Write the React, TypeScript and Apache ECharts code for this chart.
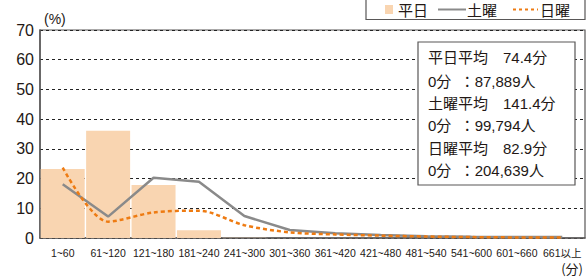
import React, { useEffect, useRef } from "react";
import * as echarts from "echarts";

const categories = ["1~60", "61~120", "121~180", "181~240", "241~300", "301~360", "361~420", "421~480", "481~540", "541~600", "601~660", "661以上"];
const weekday = [23.2, 36.1, 17.8, 2.6, 0.1, 0, 0, 0, 0, 0, 0, 0];
const saturday = [18.1, 7.2, 20.3, 18.9, 7.4, 2.7, 1.6, 1.0, 0.6, 0.4, 0.3, 0.3];
const sunday = [23.7, 5.5, 8.6, 9.2, 4.3, 1.9, 1.2, 0.8, 0.5, 0.3, 0.2, 0.2];
const yTicks = { min: 0, max: 70, interval: 10 };
const seriesNames = ["平日", "土曜", "日曜"];
const noteLines = [
  "平日平均　74.4分",
  "0分  ：87,889人",
  "土曜平均　141.4分",
  "0分  ：99,794人",
  "日曜平均　82.9分",
  "0分  ：204,639人",
];

const FONT = "'Liberation Sans', Arial, 'Noto Sans CJK JP', sans-serif";
const CJK = "'Noto Sans CJK JP', sans-serif";
const TXT = "#231815";
const AXIS = "#595757";
const BAR = "#f9d5b1";
const GRAY = "#8a8a8a";
const ORANGE = "#ee7b12";

export default function App() {
  const ref = useRef<HTMLDivElement>(null);
  useEffect(() => {
    document.body.style.margin = "0";
    const chart = echarts.init(ref.current!, null, { renderer: "svg" });
    const noteY = [57, 81, 103.5, 125.5, 148, 170];
    chart.setOption({
      animation: false,
      grid: { left: 40, right: 2, top: 30, bottom: 39, show: true, borderColor: AXIS, borderWidth: 1.2, backgroundColor: "transparent" },
      xAxis: {
        type: "category",
        data: categories,
        axisLine: { lineStyle: { color: AXIS, width: 1.5 } },
        axisTick: { alignWithLabel: true, length: 6, lineStyle: { color: AXIS, width: 1 } },
        axisLabel: { interval: 0, fontSize: 10.5, color: TXT, fontFamily: FONT, margin: 10 },
      },
      yAxis: {
        type: "value",
        min: yTicks.min,
        max: yTicks.max,
        interval: yTicks.interval,
        axisLine: { show: true, lineStyle: { color: AXIS, width: 1.5 } },
        axisTick: { show: false },
        axisLabel: { fontSize: 16, color: TXT, fontFamily: FONT, margin: 6 },
        splitLine: { lineStyle: { color: "#222", width: 1, type: [3, 3] } },
      },
      series: [
        { name: seriesNames[0], type: "bar", data: weekday, barWidth: 44, itemStyle: { color: BAR }, z: 2 },
        { name: seriesNames[1], type: "line", data: saturday, symbol: "none", lineStyle: { color: GRAY, width: 2.5 }, z: 3 },
        { name: seriesNames[2], type: "line", data: sunday, symbol: "none", smooth: 0.3, lineStyle: { color: ORANGE, width: 2.5, type: [4, 3] }, z: 4 },
      ],
      graphic: [
        { type: "text", x: 44, y: 12, z: 100, style: { text: "(%)", fontSize: 14, fill: TXT, fontFamily: FONT } },
        { type: "text", x: 583, y: 262, z: 100, style: { text: "(分)", fontSize: 13, fill: TXT, fontFamily: CJK, align: "right" } },
        { type: "rect", z: 100, shape: { x: 366, y: -5, width: 219, height: 24.5 }, style: { fill: "#fff", stroke: AXIS, lineWidth: 1.2 } },
        { type: "rect", z: 101, shape: { x: 385, y: 5, width: 8, height: 9 }, style: { fill: BAR } },
        { type: "text", z: 101, x: 398, y: 1.5, style: { text: seriesNames[0], fontSize: 15, fill: TXT, fontFamily: CJK } },
        { type: "line", z: 101, shape: { x1: 438, y1: 9.5, x2: 466, y2: 9.5 }, style: { stroke: GRAY, lineWidth: 2 } },
        { type: "text", z: 101, x: 467, y: 1.5, style: { text: seriesNames[1], fontSize: 15, fill: TXT, fontFamily: CJK } },
        { type: "line", z: 101, shape: { x1: 513, y1: 9.5, x2: 538, y2: 9.5 }, style: { stroke: ORANGE, lineWidth: 2, lineDash: [3, 3] } },
        { type: "text", z: 101, x: 540, y: 1.5, style: { text: seriesNames[2], fontSize: 15, fill: TXT, fontFamily: CJK } },
        { type: "rect", z: 100, shape: { x: 418, y: 42, width: 157, height: 143 }, style: { fill: "#fff", stroke: AXIS, lineWidth: 1.2 } },
        ...noteLines.map((t, i) => ({
          type: "text",
          z: 101,
          x: 428,
          y: noteY[i],
          style: { text: t, fontSize: 15, fill: TXT, fontFamily: FONT, verticalAlign: "middle" },
        })),
      ],
    });
    return () => chart.dispose();
  }, []);
  return <div ref={ref} style={{ width: 587, height: 277 }} />;
}
